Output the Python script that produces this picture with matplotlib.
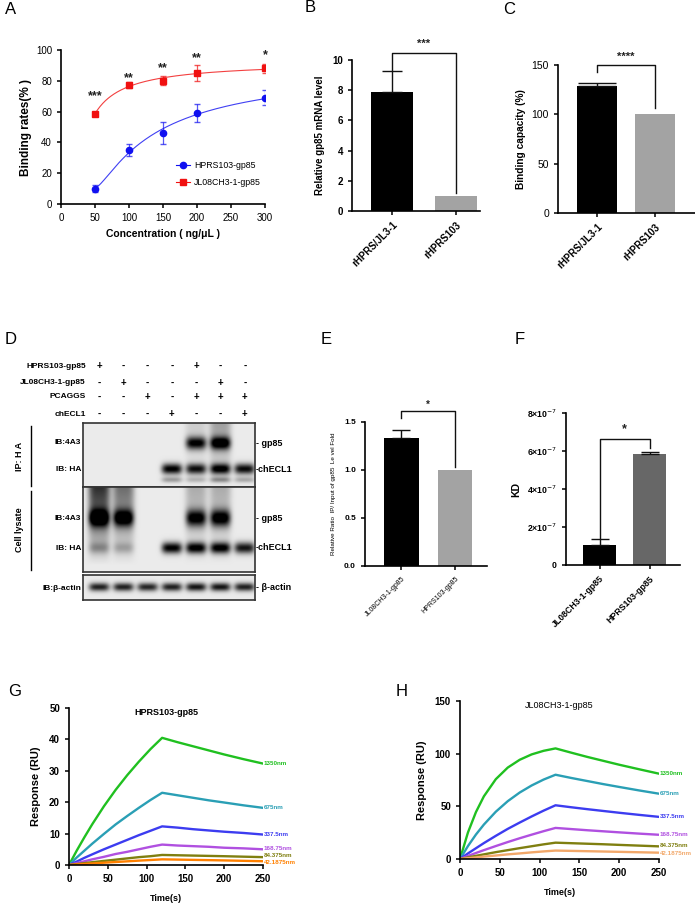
import numpy as np
import matplotlib
matplotlib.use('Agg')
import matplotlib.pyplot as plt
from matplotlib.lines import Line2D

plt.rcParams['font.family'] = ['Liberation Sans', 'DejaVu Sans']
plt.rcParams['axes.linewidth'] = 1.2

W, H = 695, 905
fig = plt.figure(figsize=(6.95, 9.05), dpi=100)


def add_ax(x0, y0, x1, y1):
    # pixel box (top-left origin) -> figure axes
    return fig.add_axes([x0 / W, 1 - y1 / H, (x1 - x0) / W, (y1 - y0) / H])


def ftext(x, y, s, **kw):
    fig.text(x / W, 1 - y / H, s, **kw)


def fline(xs, ys, **kw):
    fig.add_artist(Line2D([x / W for x in xs], [1 - y / H for y in ys],
                          transform=fig.transFigure, **kw))


def clean(ax):
    ax.spines['top'].set_visible(False)
    ax.spines['right'].set_visible(False)
    ax.tick_params(direction='out', length=3, width=1.1)


# ---------------- data ----------------
conc = np.array([50, 100, 150, 200, 300])
hprs_rate = np.array([10, 35, 46, 59, 69])
hprs_err = np.array([2.5, 4, 7, 6, 5])
jl_rate = np.array([58.5, 77.5, 80, 85, 88])
jl_err = np.array([1.5, 2, 3, 5, 3])
stars_a = ['***', '**', '**', '**', '*']

b_labels = ['rHPRS/JL3-1', 'rHPRS103']
b_vals = [7.9, 1.0]
b_errs = [1.4, 0]

c_labels = ['rHPRS/JL3-1', 'rHPRS103']
c_vals = [129, 100]
c_errs = [3, 0]

e_labels = ['JL08CH3-1-gp85', 'HPRS103-gp85']
e_vals = [1.33, 1.0]
e_errs = [0.09, 0]

f_labels = ['JL08CH3-1-gp85', 'HPRS103-gp85']
f_vals = [1.07e-7, 5.86e-7]
f_errs = [0.3e-7, 0.08e-7]

d_rows = ['HPRS103-gp85', 'JL08CH3-1-gp85', 'PCAGGS', 'chECL1']
d_signs = [['+', '-', '-', '-', '+', '-', '-'],
           ['-', '+', '-', '-', '-', '+', '-'],
           ['-', '-', '+', '-', '+', '+', '+'],
           ['-', '-', '-', '+', '-', '-', '+']]
ip_gp85 = [0, 0, 0, 0, 0.9, 1.0, 0]
ip_checl1 = [0, 0, 0, 0.95, 0.85, 0.95, 0.9]
ip_lower = [0, 0, 0, 0.3, 0.2, 0.35, 0.25]
ip_smear = [0, 0, 0, 0, 0.12, 0.3, 0]
ly_gp85 = [1.0, 0.95, 0, 0, 0.9, 0.95, 0]
ly_checl1 = [0.25, 0.2, 0, 0.95, 0.95, 0.95, 0.85]
ly_smear = [0.75, 0.5, 0, 0, 0.25, 0.25, 0]
actin = [0.8, 0.8, 0.78, 0.8, 0.85, 0.85, 0.8]

t_s = [0, 10, 20, 30, 45, 60, 75, 90, 105, 120, 140, 160, 180, 200, 225, 250]
spr_labels = ['1350nm', '675nm', '337.5nm', '168.75nm', '84.375nm', '42.1875nm']
g_resp = [
    [0, 4.6, 8.9, 13.0, 18.7, 23.9, 28.6, 32.9, 36.9, 40.5, 39.1, 37.8, 36.5, 35.2, 33.7, 32.3],
    [0, 2.4, 4.6, 6.8, 9.9, 12.9, 15.6, 18.2, 20.7, 23.0, 22.2, 21.4, 20.6, 19.9, 19.0, 18.2],
    [0, 1.1, 2.3, 3.4, 5.0, 6.5, 8.0, 9.5, 10.9, 12.3, 11.9, 11.4, 11.0, 10.6, 10.2, 9.7],
    [0, 0.6, 1.2, 1.8, 2.6, 3.5, 4.2, 5.0, 5.8, 6.5, 6.2, 6.0, 5.8, 5.5, 5.3, 5.0],
    [0, 0.3, 0.6, 0.9, 1.3, 1.7, 2.1, 2.5, 2.8, 3.2, 3.1, 3.0, 2.9, 2.8, 2.65, 2.5],
    [0, 0.17, 0.33, 0.49, 0.73, 0.95, 1.17, 1.39, 1.59, 1.8, 1.72, 1.63, 1.55, 1.46, 1.33, 1.2],
]
h_resp = [
    [0, 25.2, 44.5, 59.5, 75.8, 86.8, 94.2, 99.3, 102.7, 105, 100.9, 96.9, 93.2, 89.5, 85.2, 81],
    [0, 12.3, 23.2, 32.7, 44.9, 54.9, 63.1, 69.8, 75.4, 80, 76.9, 74.0, 71.1, 68.4, 65.1, 62],
    [0, 5.3, 10.2, 15.1, 22.0, 28.6, 34.6, 40.4, 45.9, 51, 49.1, 47.3, 45.6, 43.9, 41.9, 40],
    [0, 2.9, 5.7, 8.4, 12.3, 16.1, 19.7, 23.1, 26.4, 29.5, 28.4, 27.3, 26.3, 25.3, 24.1, 23],
    [0, 1.5, 3.0, 4.4, 6.5, 8.4, 10.3, 12.1, 13.9, 15.5, 15.0, 14.5, 14.0, 13.4, 12.7, 12.0],
    [0, 0.8, 1.5, 2.3, 3.3, 4.4, 5.3, 6.3, 7.2, 8.0, 7.7, 7.4, 7.1, 6.8, 6.4, 6.0],
]
g_colors = ['#20c020', '#2a9fb5', '#3c3cf0', '#b050e0', '#7f7f10', '#ff8000']
h_colors = ['#20c020', '#2a9fb5', '#3c3cf0', '#b050e0', '#7f7f10', '#f2a86a']

BLACK = '#000000'
GRAY = '#a3a3a3'
DGRAY = '#676767'

# ---------------- panel A ----------------
ax = add_ax(61, 50, 265, 204)
clean(ax)
u = 1.0 / conc
xs = np.linspace(50, 300, 200)
for mean, err, col, mk, lab in [(hprs_rate, hprs_err, '#1010f0', 'o', 'HPRS103-gp85'),
                                 (jl_rate, jl_err, '#f01010', 's', 'JL08CH3-1-gp85')]:
    p = np.polyfit(u, mean, 2)
    ax.plot(xs, np.polyval(p, 1.0 / xs), color=col, lw=0.8, alpha=0.8)
    ax.errorbar(conc, mean, yerr=err, fmt='none', ecolor=col, elinewidth=0.9, capsize=2.3, alpha=0.7)
    ax.plot(conc, mean, marker=mk, ls='none', color=col, ms=4.5)
    ax.plot([], [], marker=mk, color=col, ms=4.5, lw=0.8, label=lab)
star_h = [70, 82, 88.5, 94.5, 96.5]
for x, s, y in zip(conc, stars_a, star_h):
    ax.text(x, y, s, ha='center', va='center', fontsize=9, fontweight='bold', color='#222222')
ax.set_xlim(0, 300)
ax.set_ylim(0, 100)
ax.set_xticks(range(0, 301, 50))
ax.set_yticks(range(0, 101, 20))
ax.tick_params(labelsize=7)
ax.set_ylabel('Binding rates(% )', fontsize=8.5, fontweight='bold', labelpad=3)
ax.set_xlabel('Concentration ( ng/μL )', fontsize=7.5, fontweight='bold', labelpad=4)
ax.legend(loc='center left', bbox_to_anchor=(0.54, 0.195), frameon=False, fontsize=6.3,
          handlelength=1.6, labelspacing=1.0, borderpad=0, handletextpad=0.5)


def bar_panel(ax, vals, errs, colors, width, labels, cap, fs_tick=7, bold=True):
    clean(ax)
    x = np.arange(len(vals))
    ax.bar(x, vals, width=width, color=colors, edgecolor='none')
    for xi, v, e in zip(x, vals, errs):
        if e > 0:
            ax.errorbar([xi], [v], yerr=[[0], [e]], fmt='none', ecolor='#111111',
                        elinewidth=1.0, capsize=cap)
    ax.set_xticks(x)
    ax.set_xticklabels(labels, rotation=45, ha='right', rotation_mode='anchor',
                       fontsize=fs_tick, fontweight='bold' if bold else 'normal')
    for lab in ax.get_yticklabels():
        lab.set_fontsize(fs_tick)
        lab.set_fontweight('bold' if bold else 'normal')
    return x


def bracket(ax, y_left, y_top, y_right, star, y_star, fs=8):
    ax.plot([0, 0, 1, 1], [y_left, y_top, y_top, y_right], color='#111111', lw=1.0,
            clip_on=False)
    ax.text(0.5, y_star, star, ha='center', va='center', fontsize=fs, fontweight='bold',
            color='#222222', clip_on=False)


# ---------------- panel B ----------------
ax = add_ax(352, 60, 480, 211)
ax.set_ylim(0, 10)
ax.set_yticks(range(0, 11, 2))
bar_panel(ax, b_vals, b_errs, [BLACK, GRAY], 0.66, b_labels, cap=7.5)
ax.set_xlim(-0.625, 1.375)
bracket(ax, 9.35, 10.45, 1.2, '***', 11.1)
ax.set_ylabel('Relative gp85 mRNA level', fontsize=7, fontweight='bold', labelpad=5)

# ---------------- panel C ----------------
ax = add_ax(558, 65, 695, 213)
ax.set_ylim(0, 150)
ax.set_yticks([0, 50, 100, 150])
bar_panel(ax, c_vals, c_errs, [BLACK, GRAY], 0.7, c_labels, cap=14)
for lab in ax.get_yticklabels():
    lab.set_fontweight('normal')
    lab.set_fontsize(7.5)
ax.set_xlim(-0.678, 1.70)
bracket(ax, 143, 149.5, 106, '****', 158)
ax.set_ylabel('Binding capacity (%)', fontsize=7.3, fontweight='bold', labelpad=4)

# ---------------- panel D (blot) ----------------
lane_px = [99 + 24.3 * i for i in range(7)]
row_y = [366, 383, 397, 414]
for name, signs, y in zip(d_rows, d_signs, row_y):
    ftext(86, y, name, ha='right', va='center', fontsize=6, fontweight='bold')
    for xp, s in zip(lane_px, signs):
        ftext(xp, y, s, ha='center', va='center', fontsize=7, fontweight='bold')


def blot(box, h, bands, smears):
    ax = add_ax(*box)
    nx, ny = 344, int(h * 2)
    X, Y = np.meshgrid(np.linspace(-0.66, 6.42, nx), np.linspace(0, h, ny))
    img = np.full_like(X, 0.08)
    for row, sy, inten in bands:
        for lane, a in enumerate(inten):
            if a > 0:
                img += a * np.exp(-((X - lane) / 0.42) ** 4) * np.exp(-0.5 * ((Y - row) / sy) ** 2)
    for y0, y1, inten in smears:
        for lane, a in enumerate(inten):
            if a > 0:
                prof = np.clip((y1 - Y) / (y1 - y0), 0, 1) * (Y >= y0)
                img += a * np.exp(-((X - lane) / 0.45) ** 4) * prof
    ax.imshow(np.clip(img, 0, 1), cmap='gray_r', vmin=0, vmax=1, aspect='auto',
              extent=(-0.66, 6.42, h, 0), interpolation='bilinear')
    ax.set_xticks([])
    ax.set_yticks([])
    for sp in ax.spines.values():
        sp.set_linewidth(1.2)
        sp.set_color('#333333')
    return ax


blot((83, 423, 255, 487), 64,
     [(20, 4.5, ip_gp85), (46, 3.8, ip_checl1), (57, 2.0, ip_lower)],
     [(0, 64, ip_smear)])
blot((83, 487, 255, 572), 85,
     [(31, 6, ly_gp85), (61, 4, ly_checl1)],
     [(0, 78, ly_smear)])
blot((83, 575, 255, 600), 25, [(12, 3, actin)], [])

for y, s in [(443, 'IB:4A3'), (469, 'IB: HA'), (518, 'IB:4A3'), (548, 'IB: HA'), (588, 'IB:β-actin')]:
    ftext(81, y, s, ha='right', va='center', fontsize=6, fontweight='bold')
for y, s in [(443, '- gp85'), (469, '-chECL1'), (518, '- gp85'), (548, '-chECL1'), (588, '- β-actin')]:
    ftext(256, y, s, ha='left', va='center', fontsize=6.5, fontweight='bold')
ftext(19, 456, 'IP: H A', rotation=90, ha='center', va='center', fontsize=6.5, fontweight='bold')
ftext(19, 530, 'Cell lysate', rotation=90, ha='center', va='center', fontsize=6.5, fontweight='bold')
fline([31, 31], [426, 486], color='black', lw=1.0)
fline([31, 31], [491, 570], color='black', lw=1.0)

# ---------------- panel E ----------------
ax = add_ax(365, 422, 487, 566)
ax.set_ylim(0, 1.5)
ax.set_yticks([0, 0.5, 1.0, 1.5])
ax.set_yticklabels(['0.0', '0.5', '1.0', '1.5'])
bar_panel(ax, e_vals, e_errs, [BLACK, GRAY], 0.65, e_labels, cap=6.5, fs_tick=5, bold=False)
for lab in ax.get_yticklabels():
    lab.set_fontsize(6)
    lab.set_fontweight('bold')
ax.set_xlim(-0.68, 1.6)
bracket(ax, 1.54, 1.61, 1.03, '*', 1.68, fs=7)
ax.set_ylabel('Relative Ratio  IP/ Input of gp85  Le vel Fold', fontsize=4.5, labelpad=6)

# ---------------- panel F ----------------
ax = add_ax(566, 413, 680, 565)
ax.set_ylim(0, 8e-7)
ax.set_yticks([0, 2e-7, 4e-7, 6e-7, 8e-7])
ax.set_yticklabels(['0'] + [f'{k}×10$^{{-7}}$' for k in (2, 4, 6, 8)])
bar_panel(ax, f_vals, f_errs, [BLACK, DGRAY], 0.66, f_labels, cap=6.5, fs_tick=6.3)
ax.set_xlim(-0.67, 1.61)
bracket(ax, 1.4e-7, 6.65e-7, 6.15e-7, '*', 7.15e-7, fs=9)
ax.set_ylabel('KD', fontsize=7.5, fontweight='bold', labelpad=4)


# ---------------- panels G, H ----------------
def spr_panel(box, resp, colors, ymax, ystep, title, title_bold, nudges):
    ax = add_ax(*box)
    clean(ax)
    for vals, col, lab, dy in zip(resp, colors, spr_labels, nudges):
        ax.plot(t_s, vals, color=col, lw=1.7, solid_capstyle='round')
        ax.text(251, vals[-1] + dy, lab, color=col, fontsize=4.5, fontweight='bold',
                ha='left', va='center', clip_on=False)
    ax.set_xlim(0, 250)
    ax.set_ylim(0, ymax)
    ax.set_xticks(range(0, 251, 50))
    ax.set_yticks(np.arange(0, ymax + 1, ystep))
    ax.tick_params(labelsize=7)
    for lab in ax.get_xticklabels() + ax.get_yticklabels():
        lab.set_fontweight('bold')
    ax.set_ylabel('Response (RU)', fontsize=8, fontweight='bold', labelpad=6)
    ax.set_xlabel('Time(s)', fontsize=6.5, fontweight='bold', labelpad=7)
    ax.text(0.5, 0.97, title, transform=ax.transAxes, ha='center', va='center',
            fontsize=6.5, fontweight='bold' if title_bold else 'normal')
    return ax


spr_panel((69, 708, 263, 865), g_resp, g_colors, 50, 10, 'HPRS103-gp85', True,
          [0, 0, 0, 0.3, 0.4, -0.5])
spr_panel((460, 701, 659, 859), h_resp, h_colors, 150, 50, 'JL08CH3-1-gp85', False,
          [0, 0, 0, 0, 1, -1])

# panel letters
for x, y, s in [(5, 10, 'A'), (305, 8, 'B'), (503, 9, 'C'), (5, 340, 'D'), (321, 340, 'E'),
                (515, 340, 'F'), (8, 692, 'G'), (396, 692, 'H')]:
    ftext(x, y, s, ha='left', va='center', fontsize=12)

fig.savefig('out.png', dpi=100)
